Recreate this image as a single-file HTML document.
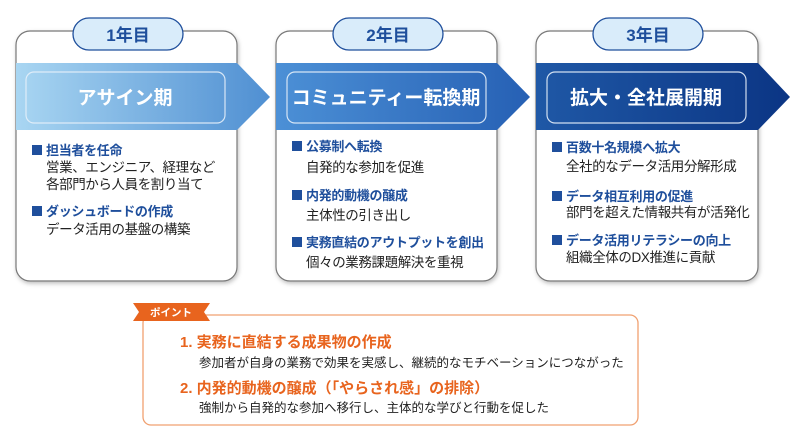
<!DOCTYPE html>
<html><head><meta charset="utf-8"><style>
html,body{margin:0;padding:0;background:#fff;}
svg text{font-family:"Liberation Sans","Noto Sans CJK JP",sans-serif;}
</style></head><body>
<svg width="800" height="442" viewBox="0 0 800 442" xmlns="http://www.w3.org/2000/svg">
<defs>
<linearGradient id="g1" x1="0" x2="1" y1="0" y2="0"><stop offset="0" stop-color="#a9d6f2"/><stop offset="1" stop-color="#4f8fd2"/></linearGradient>
<linearGradient id="g2" x1="0" x2="1" y1="0" y2="0"><stop offset="0" stop-color="#4c90d6"/><stop offset="1" stop-color="#2660b4"/></linearGradient>
<linearGradient id="g3" x1="0" x2="1" y1="0" y2="0"><stop offset="0" stop-color="#1f58a6"/><stop offset="1" stop-color="#0b3584"/></linearGradient>
<filter id="sh" x="-10%" y="-10%" width="120%" height="120%"><feDropShadow dx="1" dy="2" stdDeviation="2" flood-color="#000" flood-opacity="0.25"/></filter>
</defs>

<g fill="#fff" stroke="#777" stroke-width="1.2" filter="url(#sh)">
<rect x="16" y="31" width="221" height="250" rx="14"/>
<rect x="276" y="31" width="221" height="250" rx="14"/>
<rect x="536" y="31" width="222" height="250" rx="14"/>
</g>

<polygon points="16,63 237,63 270,97 237,130 16,130" fill="url(#g1)"/>
<polygon points="276,63 497,63 530,97 497,130 276,130" fill="url(#g2)"/>
<polygon points="536,63 758,63 790,97 758,130 536,130" fill="url(#g3)"/>
<g fill="none" stroke="#e6f0fa" stroke-width="1.2" opacity="0.9">
<rect x="26" y="72" width="199" height="51" rx="8"/>
<rect x="287" y="72" width="199" height="51" rx="8"/>
<rect x="547" y="72" width="199" height="51" rx="8"/>
</g>
<g fill="#fff" font-size="19" font-weight="bold" text-anchor="middle">
<text x="125" y="104">アサイン期</text>
<text x="386" y="104">コミュニティー転換期</text>
<text x="646" y="104">拡大・全社展開期</text>
</g>

<g fill="#d9ecfa" stroke="#1f4f9c" stroke-width="1.3">
<rect x="73" y="18" width="110" height="32" rx="16"/>
<rect x="333" y="18" width="110" height="32" rx="16"/>
<rect x="593" y="18" width="110" height="32" rx="16"/>
</g>
<g fill="#1f4f9c" font-size="17" font-weight="bold" text-anchor="middle">
<text x="128" y="41">1年目</text>
<text x="388" y="41">2年目</text>
<text x="648" y="41">3年目</text>
</g>

<g fill="#1f4f9c">
<rect x="32" y="145" width="10" height="10"/>
<rect x="32" y="206" width="10" height="10"/>
<rect x="292" y="141" width="10" height="10"/>
<rect x="292" y="190" width="10" height="10"/>
<rect x="292" y="237" width="10" height="10"/>
<rect x="552" y="142" width="10" height="10"/>
<rect x="552" y="191" width="10" height="10"/>
<rect x="552" y="235" width="10" height="10"/>
</g>
<g font-size="13.5">
<g fill="#1f4f9c" font-weight="bold" font-size="13" letter-spacing="-0.3">
<text x="46" y="155">担当者を任命</text>
<text x="46" y="216">ダッシュボードの作成</text>
<text x="306" y="151">公募制へ転換</text>
<text x="306" y="200">内発的動機の醸成</text>
<text x="306" y="247">実務直結のアウトプットを創出</text>
<text x="566" y="152">百数十名規模へ拡大</text>
<text x="566" y="201">データ相互利用の促進</text>
<text x="566" y="245">データ活用リテラシーの向上</text>
</g>
<g fill="#222" letter-spacing="-0.4">
<text x="46" y="172">営業、エンジニア、経理など</text>
<text x="46" y="189">各部門から人員を割り当て</text>
<text x="46" y="234">データ活用の基盤の構築</text>
<text x="306" y="172">自発的な参加を促進</text>
<text x="306" y="220">主体性の引き出し</text>
<text x="306" y="267">個々の業務課題解決を重視</text>
<text x="566" y="171">全社的なデータ活用分解形成</text>
<text x="566" y="217">部門を超えた情報共有が活発化</text>
<text x="566" y="262">組織全体のDX推進に貢献</text>
</g>
</g>

<rect x="143" y="315" width="495" height="110" rx="8" fill="#fff" stroke="#f0a070" stroke-width="1.3"/>
<polygon points="133,303 210,303 204,312 210,321 133,321 139,312" fill="#e8641e"/>
<text x="171" y="316" fill="#fff" font-size="10.5" font-weight="bold" text-anchor="middle">ポイント</text>
<g font-size="15" font-weight="bold" fill="#e8641e">
<text x="180" y="347">1. 実務に直結する成果物の作成</text>
<text x="180" y="393">2. 内発的動機の醸成（「やらされ感」の排除）</text>
</g>
<g font-size="12.5" fill="#222">
<text x="199" y="367">参加者が自身の業務で効果を実感し、継続的なモチベーションにつながった</text>
<text x="199" y="412">強制から自発的な参加へ移行し、主体的な学びと行動を促した</text>
</g>
</svg>
</body></html>
